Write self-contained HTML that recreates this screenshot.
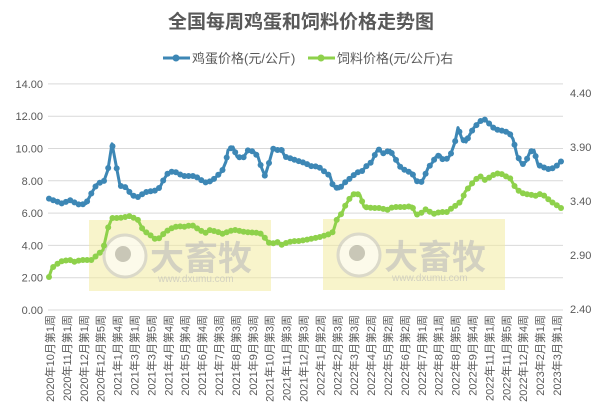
<!DOCTYPE html>
<html><head><meta charset="utf-8"><style>
html,body{margin:0;padding:0;background:#fff;}
svg{display:block;font-family:"Liberation Sans","Noto Sans CJK SC",sans-serif;}
</style></head><body>
<svg id="s" width="602" height="416" xmlns="http://www.w3.org/2000/svg">
<rect width="602" height="416" fill="#fff"/>
<text x="301" y="28" text-anchor="middle" font-size="19" font-weight="bold" fill="#595959">全国每周鸡蛋和饲料价格走势图</text>
<g font-size="13" fill="#595959">
<line x1="163" y1="58" x2="190" y2="58" stroke="#3d87b5" stroke-width="3"/><circle cx="176" cy="58" r="3.5" fill="#3d87b5"/>
<text x="192" y="63">鸡蛋价格(元/公斤)</text>
<line x1="308" y1="58" x2="335" y2="58" stroke="#8ed14b" stroke-width="3"/><circle cx="321" cy="58" r="3.5" fill="#8ed14b"/>
<text x="337" y="63">饲料价格(元/公斤)右</text>
</g>
<g id="grid" stroke="#d9d9d9" stroke-width="1"></g>
<g id="ylab" font-size="11" fill="#595959"></g>
<rect x="89" y="220" width="182" height="71" fill="#f3eba0" opacity="0.55"/>
<rect x="323" y="219" width="182" height="71" fill="#f3eba0" opacity="0.55"/>
<g opacity="0.6">
<circle cx="125" cy="256" r="21" fill="#fff" stroke="#c8c8c8" stroke-width="3"/><circle cx="123" cy="254" r="8" fill="#aaa"/>
<text x="150" y="270" font-size="34" font-weight="bold" fill="#bbb">大畜牧</text>
<text x="158" y="282" font-size="10" fill="#bbb">www.dxumu.com</text>
<circle cx="359" cy="255" r="21" fill="#fff" stroke="#c8c8c8" stroke-width="3"/><circle cx="357" cy="253" r="8" fill="#aaa"/>
<text x="384" y="269" font-size="34" font-weight="bold" fill="#bbb">大畜牧</text>
<text x="392" y="281" font-size="10" fill="#bbb">www.dxumu.com</text>
</g>
<g id="series"></g>
<g id="xlab" font-size="11" fill="#595959"></g>
</svg>
<script>
var NS="http://www.w3.org/2000/svg";
function el(t,a,p,txt){var e=document.createElementNS(NS,t);for(var k in a)e.setAttribute(k,a[k]);if(txt)e.textContent=txt;document.getElementById(p).appendChild(e);return e;}
for(var i=0;i<=7;i++){var y=310-i*32.3;el("line",{x1:48,x2:563,y1:y,y2:y},"grid");el("text",{x:43,y:y+4,"text-anchor":"end"},"ylab",(i*2).toFixed(2));}
var r=["4.40","3.90","3.40","2.90","2.40"];for(var i=0;i<5;i++)el("text",{x:570,y:97+i*54},"ylab",r[i]);
var labs=["2020年10月第1周","2020年11月第1周","2020年12月第1周","2020年12月第5周","2021年1月第4周","2021年3月第1周","2021年3月第5周","2021年4月第4周","2021年5月第4周","2021年6月第4周","2021年7月第3周","2021年8月第3周","2021年9月第3周","2021年10月第3周","2021年11月第3周","2021年12月第3周","2022年1月第2周","2022年2月第3周","2022年3月第3周","2022年4月第2周","2022年5月第2周","2022年6月第2周","2022年7月第1周","2022年8月第1周","2022年8月第5周","2022年9月第4周","2022年11月第1周","2022年11月第5周","2022年12月第4周","2023年2月第1周","2023年3月第1周"];
for(var i=0;i<labs.length;i++){var x=50+i*16.9;el("text",{x:0,y:0,"text-anchor":"end",transform:"translate("+(x+4)+",315) rotate(-90)"},"xlab",labs[i]);}
var B=[[49,6.9],[62,6.6],[70,6.8],[80,6.5],[86,6.6],[92,7.3],[97,7.8],[104,8.0],[108,8.7],[112,10.3],[116,9.0],[120,7.7],[126,7.6],[132,7.1],[138,7.0],[145,7.3],[155,7.4],[160,7.6],[163,8.0],[168,8.5],[174,8.6],[183,8.3],[195,8.3],[200,8.1],[205,7.9],[212,8.0],[217,8.3],[222,8.6],[226,9.2],[228,9.9],[233,10.1],[237,9.5],[243,9.4],[248,9.9],[254,9.8],[258,9.5],[261,8.9],[265,8.3],[269,9.1],[273,10.0],[277,9.9],[281,10.0],[285,9.5],[290,9.4],[300,9.2],[305,9.1],[312,8.9],[318,8.9],[322,8.7],[330,8.3],[333,7.7],[339,7.5],[345,7.9],[351,8.2],[356,8.5],[362,8.6],[366,8.9],[372,9.2],[374,9.5],[378,10.0],[383,9.7],[390,9.9],[397,9.2],[401,8.8],[407,8.6],[412,8.5],[416,8.0],[421,7.9],[424,8.2],[428,8.8],[432,9.1],[436,9.5],[440,9.6],[443,9.3],[448,9.4],[451,9.7],[455,10.4],[458,11.3],[462,10.6],[466,10.4],[470,10.9],[474,11.3],[480,11.7],[485,11.8],[490,11.5],[495,11.2],[503,11.1],[509,11.0],[513,10.6],[517,9.6],[522,9.0],[526,9.2],[530,9.8],[534,9.9],[538,9.0],[545,8.8],[550,8.7],[556,8.9],[561,9.2]].map(function(p){return [p[0],310-p[1]*16.14];});
var G=[[49,277],[52,268],[57,264],[62,261],[70,260],[75,262],[80,260],[92,260],[97,255],[103,250],[108,228],[112,218],[120,218],[130,216],[138,220],[143,230],[150,235],[155,239],[160,238],[165,232],[172,228],[178,226],[183,227],[192,225],[198,229],[205,233],[210,230],[218,232],[222,234],[230,231],[235,230],[245,232],[260,233],[265,238],[270,244],[278,242],[282,245],[288,242],[295,241],[300,241],[310,239],[320,237],[327,235],[333,232],[337,219],[342,213],[345,206],[350,198],[355,193],[360,195],[364,207],[372,208],[380,208],[387,210],[393,207],[405,207],[412,206],[416,215],[423,212],[426,209],[433,214],[440,212],[447,212],[452,208],[458,204],[462,200],[465,192],[470,186],[475,180],[480,176],[485,180],[490,177],[495,174],[500,173],[505,176],[510,178],[515,187],[520,192],[525,194],[532,195],[537,196],[540,194],[545,196],[550,201],[555,204],[561,208]];
function interp(P,x){for(var i=1;i<P.length;i++){if(x<=P[i][0]){var a=P[i-1],b=P[i];return a[1]+(b[1]-a[1])*(x-a[0])/(b[0]-a[0]);}}return P[P.length-1][1];}
function draw(P,c){var pts=[];var N=122;for(var i=0;i<N;i++){var x=49+i*(561-49)/(N-1);pts.push([x,interp(P,x)]);}
var kn=P.slice();var all=pts.concat(kn).sort(function(a,b){return a[0]-b[0];});
el("polyline",{points:all.map(function(p){return p[0].toFixed(1)+","+p[1].toFixed(1);}).join(" "),fill:"none",stroke:c,"stroke-width":3,"stroke-linejoin":"round"},"series");
pts.forEach(function(p){el("circle",{cx:p[0].toFixed(1),cy:p[1].toFixed(1),r:3,fill:c},"series");});}
draw(G,"#8ed14b");draw(B,"#3d87b5");
</script>
</body></html>
